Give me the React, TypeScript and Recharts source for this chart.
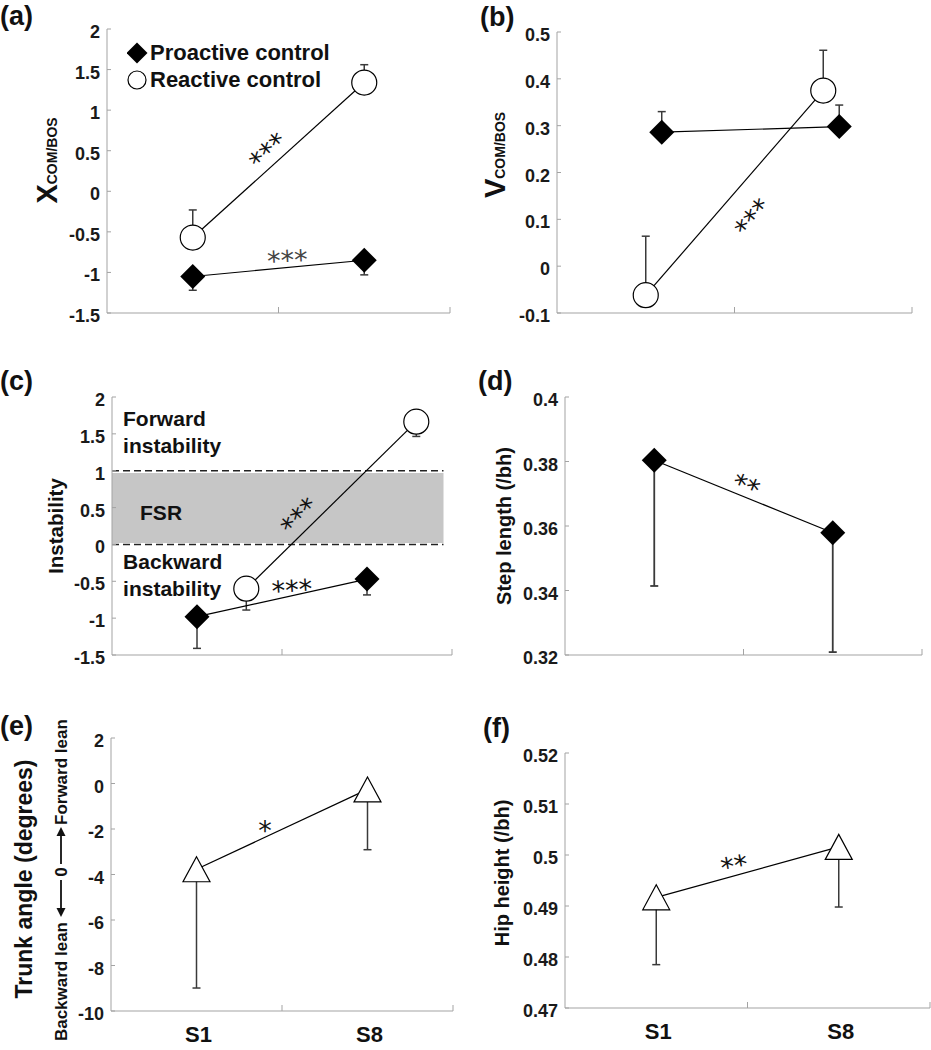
import React from "react";
import {
  ComposedChart,
  Scatter,
  XAxis,
  YAxis,
  ErrorBar,
  ReferenceArea,
  ReferenceLine,
  ReferenceDot,
  Legend,
} from "recharts";

const FONT = "Arial, 'Liberation Sans', Helvetica, sans-serif";
const STAR_FONT = "'DejaVu Sans', sans-serif";
const AXIS = "#a3a3a3";
const ERR = "#3a3a3a";

// sessions sit in the middle of each half of a 0..2 numeric axis
const sessionLabels = ["S1", "S8"];
const sessionPos = [0.5, 1.5];

// (a) X com/bos
const aProactive = [-1.05, -0.85];
const aProactiveSd = [0.17, 0.18];
const aReactive = [-0.57, 1.34];
const aReactiveSd = [0.34, 0.22];

// (b) V com/bos (proactive drawn slightly to the right)
const bProactiveX = [0.59, 1.59];
const bProactive = [0.286, 0.298];
const bProactiveSd = [0.044, 0.046];
const bReactive = [-0.062, 0.375];
const bReactiveSd = [0.126, 0.086];

// (c) instability (reactive drawn to the right)
const cReactiveX = [0.79, 1.79];
const cProactive = [-0.98, -0.47];
const cProactiveSd = [0.43, 0.215];
const cReactive = [-0.6, 1.665];
const cReactiveSd = [0.29, 0.2];

// (d) step length
const dStep = [0.3804, 0.3579];
const dStepSd = [0.039, 0.037];

// (e) trunk angle
const eTrunk = [-3.77, -0.26];
const eTrunkSd = [5.22, 2.65];

// (f) hip height
const fHip = [0.4917, 0.5016];
const fHipSd = [0.0132, 0.0118];

const ticksAC = [-1.5, -1, -0.5, 0, 0.5, 1, 1.5, 2];
const ticksB = [-0.1, 0, 0.1, 0.2, 0.3, 0.4, 0.5];
const ticksD = [0.32, 0.34, 0.36, 0.38, 0.4];
const ticksE = [-10, -8, -6, -4, -2, 0, 2];
const ticksF = [0.47, 0.48, 0.49, 0.5, 0.51, 0.52];
const xTicks = [0, 0.5, 1, 1.5, 2];

const toPoints = (xs: number[], ys: number[], sd: number[], dir: "up" | "down") =>
  ys.map((y, i) => ({ x: xs[i], y, err: dir === "up" ? [0, sd[i]] : [sd[i], 0] }));

// markers
const Diamond = ({ cx, cy, h = 12.5 }: any) => (
  <polygon points={`${cx},${cy - h} ${cx + h},${cy} ${cx},${cy + h} ${cx - h},${cy}`} fill="#000" />
);
const Circle = ({ cx, cy, r = 12.5 }: any) => (
  <circle cx={cx} cy={cy} r={r} fill="#fff" stroke="#000" strokeWidth={1.2} />
);
const Triangle = ({ cx, cy }: any) => (
  <polygon
    points={`${cx},${cy - 12.5} ${cx + 13.5},${cy + 12.5} ${cx - 13.5},${cy + 12.5}`}
    fill="#fff"
    stroke="#000"
    strokeWidth={1.2}
  />
);

const diamondShape = (p: any) => <Diamond cx={p.cx} cy={p.cy} />;
const circleShape = (p: any) => <Circle cx={p.cx} cy={p.cy} />;
const triangleShape = (p: any) => <Triangle cx={p.cx} cy={p.cy} />;

const XTick = (props: any) => {
  const { x, y, payload, showLabels } = props;
  const v = payload.value;
  const idx = sessionPos.indexOf(v);
  return (
    <g>
      {(v === 1 || v === 2) && <line x1={x} x2={x} y1={y} y2={y - 6} stroke={AXIS} />}
      {showLabels && idx >= 0 && (
        <text x={x + 2} y={y + 31} textAnchor="middle" fontFamily={FONT} fontWeight="bold" fontSize={22} fill="#111">
          {sessionLabels[idx]}
        </text>
      )}
    </g>
  );
};

const YTick = (props: any) => {
  const { x, y, payload } = props;
  return (
    <g>
      <line x1={x + 7} x2={x + 11} y1={y} y2={y} stroke={AXIS} />
      <text x={x} y={y + 3} textAnchor="end" dominantBaseline="central" fontFamily={FONT} fontWeight="bold" fontSize={18} fill="#1a1a1a">
        {String(payload.value)}
      </text>
    </g>
  );
};

const Stars = ({ cx, cy, n, angle, color = "#111" }: any) => (
  <g transform={`translate(${cx},${cy}) rotate(${angle})`}>
    <text x={0} y={16} textAnchor="middle" fontFamily={STAR_FONT} fontSize={27} letterSpacing={0} fill={color}>
      {"*".repeat(n)}
    </text>
  </g>
);

const Note = ({ cx, cy, lines, size = 21 }: any) => (
  <text x={cx} y={cy} fontFamily={FONT} fontWeight="bold" fontSize={size} fill="#111">
    {lines.map((l: string, i: number) => (
      <tspan key={i} x={cx} dy={i === 0 ? 0 : 26.5}>
        {l}
      </tspan>
    ))}
  </text>
);

// axis titles (rotated), placed from the axis viewBox
const subTitle = (main: string, sub: string, dx: number, dy: number) => (props: any) => {
  const { x, y, width, height } = props.viewBox;
  return (
    <text
      transform={`translate(${x + width - dx},${y + height / 2 + dy}) rotate(-90)`}
      textAnchor="middle"
      fontFamily={FONT}
      fontWeight="bold"
      fill="#111"
    >
      <tspan fontSize={29}>{main}</tspan>
      <tspan fontSize={14}>{sub}</tspan>
    </text>
  );
};

const plainTitle = (label: string, size: number, dx: number, dy: number) => (props: any) => {
  const { x, y, width, height } = props.viewBox;
  return (
    <text
      transform={`translate(${x + width - dx},${y + height / 2 + dy}) rotate(-90)`}
      textAnchor="middle"
      fontFamily={FONT}
      fontWeight="bold"
      fontSize={size}
      fill="#111"
    >
      {label}
    </text>
  );
};

const trunkTitle = (props: any) => {
  const { x, y, width, height } = props.viewBox;
  const L = x + width;
  const cy = y + height / 2 + 4.5;
  return (
    <g>
      <text
        transform={`translate(${L - 79},${cy}) rotate(-90)`}
        textAnchor="middle"
        fontFamily={FONT}
        fontWeight="bold"
        fontSize={23}
        fill="#111"
      >
        Trunk angle (degrees)
      </text>
      <g transform={`translate(${L - 44},${cy}) rotate(-90)`} fontFamily={FONT} fontWeight="bold" fontSize={17} fill="#111">
        <text x={-43} y={0} textAnchor="end">Backward lean</text>
        <line x1={-1} x2={-30} y1={-6} y2={-6} stroke="#111" strokeWidth={1.8} />
        <polygon points="-38,-6 -29,-10.5 -29,-1.5" fill="#111" />
        <text x={7} y={0} textAnchor="middle">0</text>
        <line x1={15} x2={44} y1={-6} y2={-6} stroke="#111" strokeWidth={1.8} />
        <polygon points="52,-6 43,-10.5 43,-1.5" fill="#111" />
        <text x={54} y={0} textAnchor="start">Forward lean</text>
      </g>
    </g>
  );
};

const LegendA = () => (
  <svg width={240} height={56} style={{ display: "block" }}>
    <Diamond cx={10} cy={13} h={10.5} />
    <text x={23} y={20} fontFamily={FONT} fontWeight="bold" fontSize={22} fill="#111">
      Proactive control
    </text>
    <Circle cx={10} cy={40} r={9} />
    <text x={23} y={47} fontFamily={FONT} fontWeight="bold" fontSize={22} fill="#111">
      Reactive control
    </text>
  </svg>
);

type Box = { l: number; t: number; r: number; b: number };

const Panel = ({ box, yDomain, yTicks, xLabels, title, padTop = 10, children }: any) => {
  const padRight = 12;
  const yw = 100;
  const xh = 45;
  const b = box as Box;
  const pw = b.r - b.l;
  const ph = b.b - b.t;
  return (
    <div style={{ position: "absolute", left: b.l - yw, top: b.t - padTop }}>
      <ComposedChart
        width={pw + yw + padRight}
        height={ph + padTop + xh}
        margin={{ top: padTop, right: padRight, bottom: 0, left: 0 }}
      >
        <XAxis
          type="number"
          dataKey="x"
          domain={[0, 2]}
          ticks={xTicks}
          interval={0}
          allowDataOverflow
          height={xh}
          axisLine={{ stroke: AXIS }}
          tickLine={false}
          tickSize={0}
          tickMargin={0}
          tick={<XTick showLabels={xLabels} />}
        />
        <YAxis
          type="number"
          dataKey="y"
          domain={yDomain}
          ticks={yTicks}
          interval={0}
          allowDataOverflow
          width={yw}
          axisLine={{ stroke: AXIS }}
          tickLine={false}
          tickSize={0}
          tickMargin={7}
          tick={<YTick />}
          label={title}
        />
        {children}
      </ComposedChart>
    </div>
  );
};

const lineStyle = { stroke: "#000", strokeWidth: 1.2 };
const errProps = { dataKey: "err", direction: "y" as const, width: 4, stroke: ERR, strokeWidth: 1.5 };

const panelLabels = [
  { t: "(a)", x: 0, y: 25 },
  { t: "(b)", x: 480, y: 26 },
  { t: "(c)", x: 0, y: 390 },
  { t: "(d)", x: 478, y: 390 },
  { t: "(e)", x: 0, y: 735 },
  { t: "(f)", x: 483, y: 737 },
];

export default function App() {
  return (
    <div style={{ position: "absolute", left: 0, top: 0, width: 931, height: 1050, background: "#fff", fontFamily: FONT }}>
      <svg width={931} height={1050} style={{ position: "absolute", left: 0, top: 0 }}>
        {panelLabels.map((p) => (
          <text key={p.t} x={p.x} y={p.y} fontFamily={FONT} fontWeight="bold" fontSize={27} fill="#111">
            {p.t}
          </text>
        ))}
      </svg>

      {/* (a) */}
      <Panel box={{ l: 107, t: 29, r: 450, b: 313 }} yDomain={[-1.5, 2]} yTicks={ticksAC} title={subTitle("X", "COM/BOS", 50, -10.5)}>
        <Scatter data={toPoints(sessionPos, aReactive, aReactiveSd, "up")} line={lineStyle} lineType="joint" shape={circleShape} isAnimationActive={false}>
          <ErrorBar {...errProps} />
        </Scatter>
        <Scatter data={toPoints(sessionPos, aProactive, aProactiveSd, "down")} line={lineStyle} lineType="joint" shape={diamondShape} isAnimationActive={false}>
          <ErrorBar {...errProps} />
        </Scatter>
        <ReferenceDot x={0.915} y={0.55} r={0} shape={(p: any) => <Stars cx={p.cx} cy={p.cy} n={3} angle={-43} />} />
        <ReferenceDot x={1.05} y={-0.77} r={0} shape={(p: any) => <Stars cx={p.cx} cy={p.cy} n={3} angle={-3} color="#444" />} />
        <Legend layout="vertical" align="center" verticalAlign="middle" wrapperStyle={{ left: 120, top: 21 }} content={<LegendA />} />
      </Panel>

      {/* (b) */}
      <Panel box={{ l: 557, t: 32, r: 912, b: 313 }} yDomain={[-0.1, 0.5]} yTicks={ticksB} title={subTitle("V", "COM/BOS", 52, -17.5)}>
        <Scatter data={toPoints(sessionPos, bReactive, bReactiveSd, "up")} line={lineStyle} lineType="joint" shape={circleShape} isAnimationActive={false}>
          <ErrorBar {...errProps} />
        </Scatter>
        <Scatter data={toPoints(bProactiveX, bProactive, bProactiveSd, "up")} line={lineStyle} lineType="joint" shape={diamondShape} isAnimationActive={false}>
          <ErrorBar {...errProps} />
        </Scatter>
        <ReferenceDot x={1.076} y={0.112} r={0} shape={(p: any) => <Stars cx={p.cx} cy={p.cy} n={3} angle={-50} />} />
      </Panel>

      {/* (c) */}
      <Panel box={{ l: 112, t: 397, r: 452, b: 655 }} yDomain={[-1.5, 2]} yTicks={ticksAC} title={plainTitle("Instability", 20.5, 49, 0)}>
        <ReferenceArea x1={0} x2={1.95} y1={0.02} y2={0.97} fill="#c6c6c6" fillOpacity={1} stroke="none" />
        <ReferenceLine segment={[{ x: 0, y: 1 }, { x: 1.95, y: 1 }]} stroke="#222" strokeWidth={1.5} strokeDasharray="7 4" />
        <ReferenceLine segment={[{ x: 0, y: 0 }, { x: 1.95, y: 0 }]} stroke="#222" strokeWidth={1.5} strokeDasharray="7 4" />
        <ReferenceDot x={0.065} y={1.6} r={0} shape={(p: any) => <Note cx={p.cx} cy={p.cy} lines={["Forward", "instability"]} />} />
        <ReferenceDot x={0.165} y={0.33} r={0} shape={(p: any) => <Note cx={p.cx} cy={p.cy} lines={["FSR"]} />} />
        <ReferenceDot x={0.065} y={-0.335} r={0} shape={(p: any) => <Note cx={p.cx} cy={p.cy} lines={["Backward", "instability"]} />} />
        <Scatter data={toPoints(cReactiveX, cReactive, cReactiveSd, "down")} line={lineStyle} lineType="joint" shape={circleShape} isAnimationActive={false}>
          <ErrorBar {...errProps} />
        </Scatter>
        <Scatter data={toPoints(sessionPos, cProactive, cProactiveSd, "down")} line={lineStyle} lineType="joint" shape={diamondShape} isAnimationActive={false}>
          <ErrorBar {...errProps} />
        </Scatter>
        <ReferenceDot x={1.076} y={0.44} r={0} shape={(p: any) => <Stars cx={p.cx} cy={p.cy} n={3} angle={-45} />} />
        <ReferenceDot x={1.057} y={-0.53} r={0} shape={(p: any) => <Stars cx={p.cx} cy={p.cy} n={3} angle={-4} />} />
      </Panel>

      {/* (d) */}
      <Panel box={{ l: 565, t: 397, r: 922, b: 655 }} yDomain={[0.32, 0.4]} yTicks={ticksD} title={plainTitle("Step length (/bh)", 20, 54, 0)}>
        <Scatter data={toPoints(sessionPos, dStep, dStepSd, "down")} line={lineStyle} lineType="joint" shape={diamondShape} isAnimationActive={false}>
          <ErrorBar {...errProps} strokeWidth={1.8} />
        </Scatter>
        <ReferenceDot x={1.027} y={0.3742} r={0} shape={(p: any) => <Stars cx={p.cx} cy={p.cy} n={2} angle={22} />} />
      </Panel>

      {/* (e) */}
      <Panel box={{ l: 111, t: 738, r: 453, b: 1011 }} padTop={40} yDomain={[-10, 2]} yTicks={ticksE} xLabels title={trunkTitle}>
        <Scatter data={toPoints(sessionPos, eTrunk, eTrunkSd, "down")} line={lineStyle} lineType="joint" shape={triangleShape} isAnimationActive={false}>
          <ErrorBar {...errProps} />
        </Scatter>
        <ReferenceDot x={0.9} y={-1.76} r={0} shape={(p: any) => <Stars cx={p.cx} cy={p.cy} n={1} angle={0} />} />
      </Panel>

      {/* (f) */}
      <Panel box={{ l: 565, t: 753, r: 930, b: 1008 }} yDomain={[0.47, 0.52]} yTicks={ticksF} xLabels title={plainTitle("Hip height (/bh)", 20, 56, -7.5)}>
        <Scatter data={toPoints(sessionPos, fHip, fHipSd, "down")} line={lineStyle} lineType="joint" shape={triangleShape} isAnimationActive={false}>
          <ErrorBar {...errProps} />
        </Scatter>
        <ReferenceDot x={0.922} y={0.4991} r={0} shape={(p: any) => <Stars cx={p.cx} cy={p.cy} n={2} angle={-10} />} />
      </Panel>
    </div>
  );
}
